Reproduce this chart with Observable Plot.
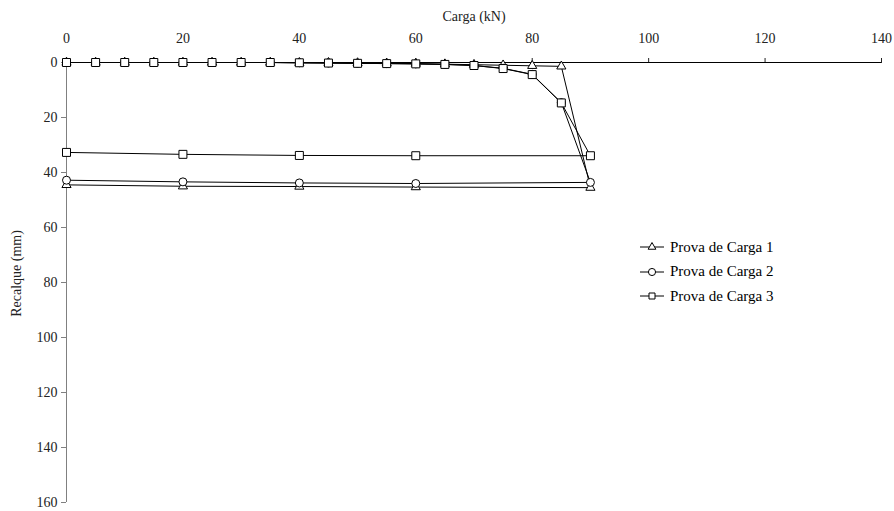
<!DOCTYPE html>
<html><head><meta charset="utf-8">
<script src="https://cdn.jsdelivr.net/npm/d3@7"></script>
<script src="https://cdn.jsdelivr.net/npm/@observablehq/plot@0.6"></script>
<style>
body{margin:0;background:#fff}
#wrap{position:relative;width:894px;height:511px}
#wrap svg text{font-family:"Liberation Serif","Times New Roman",Times,"DejaVu Serif",serif}
#legend{position:absolute;left:638px;top:235px;font-family:"Liberation Serif","Times New Roman",Times,"DejaVu Serif",serif;font-size:15px;color:#000}
#legend div{height:24.5px;display:flex;align-items:center}
#legend svg{margin-right:4px}
</style>
</head><body><div id="wrap"></div>
<script>
const seriesNames = ["Prova de Carga 1", "Prova de Carga 2", "Prova de Carga 3"];
const symbols = ["triangle", "circle", "square"];
const load = [0,5,10,15,20,25,30,35,40,45,50,55,60,65,70,75,80,85,90,60,40,20,0];
const s1 = [0,0,0,0,0,0,0,0,0.1,0.1,0.2,0.3,0.4,0.6,0.8,1.0,1.2,1.4,45.5,45.3,45.1,45.0,44.5];
const s2 = [0,0,0,0,0,0,0,0,0.1,0.2,0.3,0.4,0.5,0.7,1.1,2.1,4.3,14.6,43.6,44.0,43.8,43.4,42.8];
const s3 = [0,0,0,0,0,0,0,0,0.1,0.2,0.3,0.4,0.5,0.7,1.1,2.2,4.4,14.7,33.9,33.9,33.8,33.4,32.7];
const xTicks = [0,20,40,60,80,100,120,140];
const yTicks = [0,20,40,60,80,100,120,140,160];
const xLabel = "Carga (kN)";
const yLabel = "Recalque (mm)";

const all = [s1, s2, s3];
const rows = all.map((s, k) => load.map((x, i) => ({x, y: s[i], name: seriesNames[k]})));
const rSize = {triangle: 3.4, circle: 4, square: 4.5};
const FONT = "Liberation Serif, Times New Roman, serif";

const marks = [
  Plot.ruleX([0], {stroke: "#808080"}),
  Plot.axisY({ticks: yTicks, tickSize: 5, tickPadding: 4, stroke: "#808080", color: "#222", label: null, fontFamily: FONT}),
  Plot.text([yLabel], {frameAnchor: "left", textAnchor: "middle", rotate: -90, dx: -50, dy: -9, fontSize: 14, fill: "#222", fontFamily: FONT}),
  Plot.axisX({anchor: "top", ticks: xTicks, tickSize: 5, tickPadding: 15, color: "#222",
    label: xLabel, labelAnchor: "center", labelOffset: 51, labelArrow: "none", fontFamily: FONT}),
  Plot.ruleY([0], {stroke: "#000"})
];
rows.forEach((d, k) => {
  marks.push(Plot.line(d, {x: "x", y: "y", stroke: "#000", strokeWidth: 1}));
});
rows.forEach((d, k) => {
  marks.push(Plot.dot(d, {x: "x", y: "y", symbol: symbols[k], r: rSize[symbols[k]], fill: "white", stroke: "#000", strokeWidth: 1}));
});

const chart = Plot.plot({
  width: 894, height: 511,
  marginLeft: 66, marginRight: 13, marginTop: 62, marginBottom: 9,
  style: {fontFamily: FONT, fontSize: "14px", background: "#fff", color: "#000"},
  x: {domain: [0, 140]},
  y: {domain: [0, 160], reverse: true},
  marks
});
const wrap = document.getElementById("wrap");
wrap.appendChild(chart);

const legend = document.createElement("div");
legend.id = "legend";
seriesNames.forEach((n, k) => {
  const row = document.createElement("div");
  const area = symbols[k] === "triangle" ? 26 : symbols[k] === "circle" ? 40 : 36;
  const p = d3.symbol(symbols[k] === "triangle" ? d3.symbolTriangle : symbols[k] === "circle" ? d3.symbolCircle : d3.symbolSquare, area)();
  row.innerHTML = `<svg width="28" height="12"><line x1="2" x2="26" y1="6" y2="6" stroke="#000"/><path d="${p}" transform="translate(14,6)" fill="#fff" stroke="#000"/></svg><span>${n}</span>`;
  legend.appendChild(row);
});
wrap.appendChild(legend);
</script>
</body></html>
